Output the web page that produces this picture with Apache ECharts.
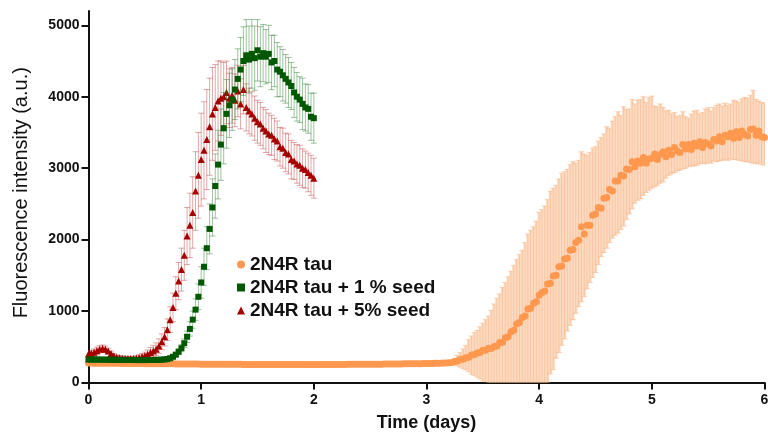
<!DOCTYPE html>
<html>
<head>
<meta charset="utf-8">
<script src="https://cdn.jsdelivr.net/npm/echarts@6/dist/echarts.min.js"></script>
<style>html,body{margin:0;padding:0;background:#fff}#c{width:768px;height:434px}</style>
</head>
<body>
<div id="c"></div>
<script>
// ---- data ----
const seriesNames = ['2N4R tau', '2N4R tau + 1 % seed', '2N4R tau + 5% seed'];
const xTickLabels = ['0', '1', '2', '3', '4', '5', '6'];
const yTickLabels = ['0', '1000', '2000', '3000', '4000', '5000'];

// 2N4R tau: sampled every 0.025 day from 0 to 6
const orangeStep = 0.025;
// lag phase, 0 .. 3.2 days (error bars hidden under the markers)
const orangeFlatMean = [
  272,272,271,271,270,270,270,269,269,268,
  268,268,267,267,267,266,266,265,265,265,
  264,264,264,263,263,262,262,262,261,261,
  261,260,260,260,259,259,259,258,258,258,
  257,257,257,256,256,256,256,255,255,255,
  255,254,254,254,254,253,253,253,253,253,
  252,252,252,252,252,252,252,251,251,251,
  251,251,251,251,251,251,251,251,251,251,
  251,251,252,252,252,252,252,253,253,253,
  253,253,254,254,254,254,255,255,255,256,
  256,256,257,257,257,258,258,258,259,259,
  260,260,261,261,262,262,263,263,264,265,
  265,266,267,268,269,270,272,274,276
];
// growth phase, 3.225 .. 6.0 days
const orangeRiseMean = [
  280,295,302,322,325,348,355,385,388,412,
  420,450,450,480,475,505,510,560,565,625,
  640,710,730,820,840,910,930,1030,1040,1110,
  1130,1220,
  1260,1280,1380,1390,1490,1500,1620,1630,1730,1740,
  1850,1860,1960,1990,2180,2080,2200,2200,2340,2360,
  2450,2440,2580,2590,2700,2680,2820,2820,2900,2890,
  2990,2980,3090,3020,3100,3070,3150,3070,3130,3140,
  3200,3120,3190,3230,3160,3250,3190,3290,3240,3220,
  3330,3270,3330,3260,3350,3310,3370,3290,3360,3340,
  3310,3400,3380,3440,3370,3460,3440,3490,3420,3510,
  3430,3520,3470,3450,3540,3550,3460,3520,3440,3430
];
const orangeRiseLow = [
  255,245,230,215,195,175,150,115,95,75,
  50,25,10,0,0,0,0,0,0,0,
  0,0,0,0,0,0,0,0,0,0,
  0,0,
  0,0,0,120,180,340,420,520,610,720,
  800,880,970,1060,1130,1200,1310,1400,1470,1540,
  1650,1760,1820,1880,1960,2020,2060,2090,2140,2190,
  2280,2360,2430,2510,2550,2570,2620,2660,2690,2720,
  2740,2760,2790,2810,2860,2900,2920,2940,2960,2970,
  2990,3000,3020,3030,3030,3040,3060,3070,3060,3080,
  3070,3100,3090,3100,3110,3120,3110,3130,3120,3120,
  3110,3100,3090,3090,3080,3070,3060,3070,3050,3040
];
const orangeRiseHigh = [
  305,340,380,420,470,520,600,650,700,730,
  780,830,880,930,1010,1100,1180,1240,1330,1400,
  1480,1560,1640,1720,1790,1850,1960,2080,2130,2180,
  2260,2380,
  2420,2470,2560,2680,2720,2760,2850,2930,2950,2980,
  3050,3090,3070,3110,3230,3200,3180,3220,3280,3300,
  3380,3430,3480,3580,3560,3660,3720,3790,3740,3860,
  3820,3830,3960,3900,3950,3960,4000,3920,3990,4010,
  3870,3860,3900,3850,3800,3810,3760,3780,3720,3740,
  3790,3720,3700,3760,3800,3810,3760,3780,3830,3850,
  3800,3850,3880,3900,3870,3910,3880,3900,3950,3940,
  3920,3970,3990,3980,4020,4090,3960,3940,3920,3910
];

// seeded samples: every 0.025 day from 0 to 2
const seedStep = 0.025;
const greenMean = [
  320,321,322,322,321,320,320,319,318,318,
  317,317,316,316,315,315,315,314,314,314,
  314,315,315,316,317,318,320,323,328,340,
  360,390,430,480,550,640,750,880,1020,1200,
  1400,1620,1880,2150,2450,2750,3050,3330,3560,3760,
  3880,3960,4100,4250,4380,4500,4580,4520,4600,4540,
  4650,4560,4610,4560,4600,4480,4500,4380,4350,4300,
  4250,4200,4150,4060,4000,3960,3900,3850,3830,3720,
  3700
];
const greenSd = [
  15,15,15,15,15,15,15,15,15,15,
  15,15,15,15,15,15,15,15,15,15,
  15,15,15,15,15,15,15,18,20,20,
  25,30,40,50,60,80,100,120,150,180,
  220,260,300,350,400,450,480,500,500,480,
  450,430,420,420,450,480,500,470,480,450,
  430,420,400,380,400,380,360,380,350,360,
  340,350,330,350,340,320,360,330,340,330,
  350
];
const redMean = [
  400,410,425,445,465,475,465,440,405,375,
  355,345,340,337,335,335,336,340,348,360,
  375,395,420,440,465,510,570,640,740,880,
  1050,1250,1420,1580,1780,2050,2200,2380,2680,2900,
  3120,3250,3400,3580,3760,3850,3940,3980,4000,4060,
  3980,4020,3950,4080,3900,4100,3850,3800,3760,3700,
  3650,3620,3560,3520,3480,3460,3410,3380,3300,3280,
  3220,3200,3120,3100,3060,3040,3000,2980,2940,2900,
  2860
];
const redSd = [
  40,40,45,50,50,50,45,40,35,30,
  30,30,30,30,30,30,30,35,40,
  45,50,60,70,80,90,100,110,130,150,
  180,200,230,260,300,350,400,450,500,550,
  600,650,680,700,680,650,600,560,520,480,
  440,410,390,370,360,350,340,330,320,310,
  310,
  300,300,290,300,290,280,290,280,270,280,
  270,280,270,260,270,280,270,260,270,280,
  280
];

// ---- build library data ----
const t = (i, step) => +(i * step).toFixed(3);
const orangeMean = orangeFlatMean.concat(orangeRiseMean);
const riseOffset = orangeFlatMean.length;
const orangePts = orangeMean.map((v, i) => [t(i, orangeStep), v]);
const orangeErr = orangeRiseMean.map((v, i) => [t(i + riseOffset, orangeStep), orangeRiseLow[i], orangeRiseHigh[i]]);
const greenPts = greenMean.map((v, i) => [t(i, seedStep), v]);
const greenErr = greenMean.map((v, i) => [t(i, seedStep), v - greenSd[i], v + greenSd[i]]);
const redPts = redMean.map((v, i) => [t(i, seedStep), v]);
const redErr = redMean.map((v, i) => [t(i, seedStep), v - redSd[i], v + redSd[i]]);

const FONT = '"Liberation Sans", Arial, sans-serif';

function errRender(stroke, capW, bandFill, step) {
  return function (params, api) {
    const x = api.value(0);
    const lo = Math.max(api.value(1), 0);
    const hi = api.value(2);
    const p1 = api.coord([x, lo]);
    const p2 = api.coord([x, hi]);
    const children = [];
    if (bandFill) {
      const w = api.size([step, 0])[0];
      children.push({type: 'rect', shape: {x: p1[0] - w / 2 - 0.3, y: p2[1], width: w + 0.6, height: p1[1] - p2[1]}, style: {fill: bandFill}});
    }
    children.push({type: 'line', shape: {x1: p1[0], y1: p1[1], x2: p2[0], y2: p2[1]}, style: {stroke: stroke, lineWidth: 1}});
    children.push({type: 'line', shape: {x1: p2[0] - capW / 2, y1: p2[1], x2: p2[0] + capW / 2, y2: p2[1]}, style: {stroke: stroke, lineWidth: 1}});
    children.push({type: 'line', shape: {x1: p1[0] - capW / 2, y1: p1[1], x2: p1[0] + capW / 2, y2: p1[1]}, style: {stroke: stroke, lineWidth: 1}});
    return {type: 'group', children: children};
  };
}

const chart = echarts.init(document.getElementById('c'), null, {renderer: 'canvas'});
chart.setOption({
  animation: false,
  backgroundColor: '#fff',
  grid: {left: 88.5, right: 3.5, top: 11, bottom: 51.5, containLabel: false, outerBoundsMode: 'none'},
  legend: {
    data: [
      {name: seriesNames[0], icon: 'circle'},
      {name: seriesNames[1], icon: 'rect'},
      {name: seriesNames[2], icon: 'triangle'}
    ],
    orient: 'vertical', left: 232, top: 250,
    itemWidth: 8, itemHeight: 8, itemGap: 4,
    textStyle: {fontFamily: FONT, fontWeight: 'bold', fontSize: 19, color: '#111'}
  },
  xAxis: {
    type: 'value', min: 0, max: 6, interval: 1,
    name: 'Time (days)', nameLocation: 'middle', nameGap: 32,
    nameTextStyle: {fontFamily: FONT, fontWeight: 'bold', fontSize: 18, color: '#111'},
    axisLine: {show: true, onZero: false, lineStyle: {color: '#111', width: 2}},
    axisTick: {show: true, length: 7, lineStyle: {color: '#111', width: 2}},
    axisLabel: {fontFamily: FONT, fontWeight: 'bold', fontSize: 14, color: '#111', margin: 11,
      formatter: (v) => xTickLabels[Math.round(v)]},
    splitLine: {show: false}
  },
  yAxis: {
    type: 'value', min: 0, max: 5200, interval: 1000,
    name: 'Fluorescence intensity (a.u.)', nameLocation: 'middle', nameGap: 57,
    nameTextStyle: {fontFamily: FONT, fontWeight: 'normal', fontSize: 20, color: '#111', padding: [0, 0, 0, 8]},
    axisLine: {show: true, lineStyle: {color: '#111', width: 2}},
    axisTick: {show: true, length: 7, lineStyle: {color: '#111', width: 2}, customValues: [0, 1000, 2000, 3000, 4000, 5000]},
    axisLabel: {fontFamily: FONT, fontWeight: 'bold', fontSize: 14, color: '#111', margin: 9,
      customValues: [0, 1000, 2000, 3000, 4000, 5000],
      formatter: (v) => yTickLabels[Math.round(v / 1000)]},
    splitLine: {show: false}
  },
  series: [
    {type: 'custom', name: 'err0', data: orangeErr, clip: true, z: 1,
      encode: {x: 0, y: [1, 2]},
      renderItem: errRender('rgba(248,175,125,0.5)', 6, 'rgba(252,216,190,0.9)', orangeStep)},
    {type: 'scatter', name: seriesNames[0], data: orangePts, symbol: 'circle', symbolSize: 7, z: 2,
      itemStyle: {color: '#ff984f', opacity: 1}},
    {type: 'custom', name: 'err2', data: redErr, clip: true, z: 3,
      encode: {x: 0, y: [1, 2]},
      renderItem: errRender('rgba(190,60,60,0.45)', 6, null, seedStep)},
    {type: 'scatter', name: seriesNames[2], data: redPts, symbol: 'triangle', symbolSize: 7, z: 4,
      itemStyle: {color: '#a50000', opacity: 1}},
    {type: 'custom', name: 'err1', data: greenErr, clip: true, z: 5,
      encode: {x: 0, y: [1, 2]},
      renderItem: errRender('rgba(40,120,40,0.45)', 6, null, seedStep)},
    {type: 'scatter', name: seriesNames[1], data: greenPts, symbol: 'rect', symbolSize: 6, z: 6,
      itemStyle: {color: '#005800', opacity: 1}}
  ]
});
</script>
</body>
</html>
